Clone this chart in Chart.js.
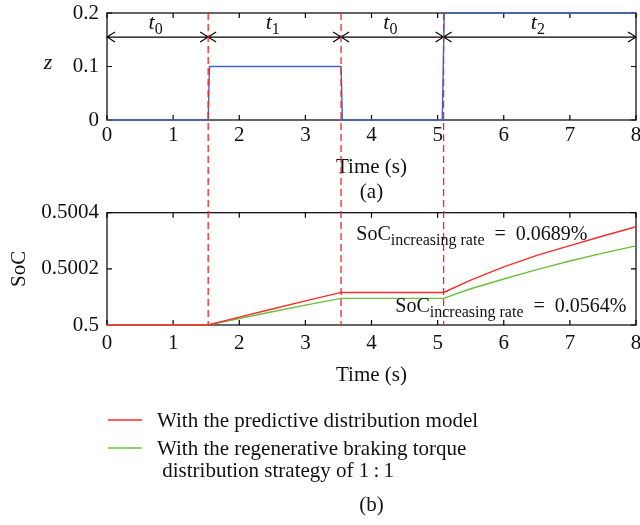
<!DOCTYPE html>
<html>
<head>
<meta charset="utf-8">
<script src="https://cdn.jsdelivr.net/npm/chart.js@4.4.0/dist/chart.umd.min.js"></script>
<style>
  body { margin: 0; background: #fff; }
  #wrap { position: relative; width: 640px; height: 525px; }
  canvas { position: absolute; left: 0; }
  #z-chart { top: 0; }
  #soc-chart { top: 195px; }
</style>
</head>
<body>
<div id="wrap">
  <canvas id="z-chart" width="640" height="205"></canvas>
  <canvas id="soc-chart" width="640" height="330"></canvas>
</div>
<script>
const timeTicks = [0, 1, 2, 3, 4, 5, 6, 7, 8];
const zTicks = [0, 0.1, 0.2];
const socTicks = [0.5, 0.5002, 0.5004];

// braking intensity z
const zTime = [0, 1.53, 1.55, 3.54, 3.56, 5.07, 5.1, 8];
const zValue = [0, 0, 0.1, 0.1, 0, 0, 0.2, 0.2];

// phase boundaries (red dashed lines) and phase names
const switchTimes = [1.53, 3.54, 5.09];
const phaseBounds = [0, 1.53, 3.54, 5.09, 8];
const phaseNames = ["0", "1", "0", "2"];

// SoC
const socTime = [0, 1.53, 2, 2.5, 3, 3.54, 5.09, 5.5, 6, 6.5, 7, 7.5, 8];
const socPredictive = [0.5, 0.5, 0.500028, 0.500057, 0.500086, 0.500116, 0.500116, 0.50016, 0.500207, 0.500248, 0.500283, 0.500317, 0.50035];
const socEqual = [0.5, 0.5, 0.500023, 0.500047, 0.500071, 0.500095, 0.500095, 0.500129, 0.500164, 0.500197, 0.500228, 0.500256, 0.500282];

const seriesLabels = [
	"With the predictive distribution model",
	"With the regenerative braking torque\n distribution strategy of 1\u2009:\u20091",
];
const rateLabels = ["0.0689%", "0.0564%"];

const serif = '"Liberation Serif", "DejaVu Serif", serif';
const fontSize = 21;
const splitY = 200; // page y where the dashed lines pass from one canvas to the other

const toXY = (xs, ys) => xs.map((x, i) => ({ x, y: ys[i] }));

// box around plot + inward tick marks (drawn under the data)
const frame = {
	id: "frame",
	beforeDatasetsDraw(chart) {
		const { ctx, chartArea: a, scales } = chart;
		ctx.save();
		ctx.strokeStyle = "#000";
		ctx.lineWidth = 1.2;
		ctx.strokeRect(a.left, a.top, a.right - a.left, a.bottom - a.top);
		ctx.beginPath();
		scales.x.ticks.forEach((t) => {
			const px = scales.x.getPixelForValue(t.value);
			ctx.moveTo(px, a.bottom);
			ctx.lineTo(px, a.bottom - 5);
			ctx.moveTo(px, a.top);
			ctx.lineTo(px, a.top + 5);
		});
		scales.y.ticks.forEach((t) => {
			const py = scales.y.getPixelForValue(t.value);
			ctx.moveTo(a.left, py);
			ctx.lineTo(a.left + 5, py);
			ctx.moveTo(a.right, py);
			ctx.lineTo(a.right - 5, py);
		});
		ctx.stroke();
		ctx.restore();
	},
};

// red dashed lines across both panels
const switchLines = (canvasTop) => ({
	id: "switchLines",
	afterDraw(chart) {
		const { ctx, chartArea: a, scales } = chart;
		ctx.save();
		ctx.strokeStyle = "#ff2020";
		ctx.lineWidth = 1.3;
		ctx.setLineDash([7, 4]);
		switchTimes.forEach((t) => {
			const px = scales.x.getPixelForValue(t);
			ctx.beginPath();
			if (canvasTop === 0) {
				ctx.moveTo(px, a.top);
				ctx.lineTo(px, splitY);
			} else {
				ctx.lineDashOffset = (splitY - 13) % 11;
				ctx.moveTo(px, splitY - canvasTop);
				ctx.lineTo(px, a.bottom);
			}
			ctx.stroke();
		});
		ctx.restore();
	},
});

const subText = (ctx, x, y, main, sub, tail, italic, mainSize, subSize) => {
	ctx.font = (italic ? "italic " : "") + mainSize + "px " + serif;
	ctx.fillText(main, x, y);
	x += ctx.measureText(main).width;
	ctx.font = subSize + "px " + serif;
	ctx.fillText(sub, x, y + 5);
	x += ctx.measureText(sub).width;
	if (tail) {
		ctx.font = mainSize + "px " + serif;
		ctx.fillText(tail, x, y);
	}
};

// phase arrows and t labels
const phases = {
	id: "phases",
	afterDatasetsDraw(chart) {
		const { ctx, scales } = chart;
		const y = scales.y.getPixelForValue(0.155);
		const ty = scales.y.getPixelForValue(0.171);
		ctx.save();
		ctx.strokeStyle = "#000";
		ctx.fillStyle = "#111";
		ctx.lineWidth = 1.1;
		ctx.beginPath();
		ctx.moveTo(scales.x.getPixelForValue(phaseBounds[0]), y);
		ctx.lineTo(scales.x.getPixelForValue(phaseBounds[phaseBounds.length - 1]), y);
		phaseBounds.forEach((b, i) => {
			const px = scales.x.getPixelForValue(b);
			if (i > 0) {
				ctx.moveTo(px - 8, y - 5);
				ctx.lineTo(px, y);
				ctx.lineTo(px - 8, y + 5);
			}
			if (i < phaseBounds.length - 1) {
				ctx.moveTo(px + 8, y - 5);
				ctx.lineTo(px, y);
				ctx.lineTo(px + 8, y + 5);
			}
		});
		ctx.stroke();
		ctx.textBaseline = "alphabetic";
		phaseNames.forEach((n, i) => {
			const mid = scales.x.getPixelForValue((phaseBounds[i] + phaseBounds[i + 1]) / 2);
			subText(ctx, mid - 9, ty, "t", n, null, true, 22, 16);
		});
		ctx.font = "italic 22px " + serif;
		ctx.textAlign = "center";
		ctx.textBaseline = "middle";
		ctx.fillText("z", 48, scales.y.getPixelForValue(0.1) - 3);
		ctx.restore();
	},
};

// rate annotations, legend and panel tag
const socExtras = {
	id: "socExtras",
	afterDraw(chart) {
		const { ctx, scales, chartArea: a } = chart;
		ctx.save();
		ctx.fillStyle = "#111";
		ctx.textBaseline = "alphabetic";
		subText(ctx, scales.x.getPixelForValue(3.77), scales.y.getPixelForValue(0.500303), "SoC", "increasing rate", "  =  " + rateLabels[0], false, 20, 16);
		subText(ctx, scales.x.getPixelForValue(4.36), scales.y.getPixelForValue(0.5000465), "SoC", "increasing rate", "  =  " + rateLabels[1], false, 20, 16);

		const rows = [a.bottom + 95, a.bottom + 123];
		chart.data.datasets.forEach((ds, i) => {
			ctx.strokeStyle = ds.borderColor;
			ctx.lineWidth = 1.3;
			ctx.beginPath();
			ctx.moveTo(a.left + 1, rows[i]);
			ctx.lineTo(a.left + 35, rows[i]);
			ctx.stroke();
			ctx.font = fontSize + "px " + serif;
			ctx.textBaseline = "middle";
			ds.label.split("\n").forEach((line, k) => {
				ctx.fillText(line, a.left + 50, rows[i] + 1 + k * 22);
			});
		});
		ctx.textAlign = "center";
		ctx.fillText("(b)", (a.left + a.right) / 2, a.bottom + 180);
		ctx.restore();
	},
};

const xAxis = (height, pad, title) => ({
	type: "linear",
	min: 0,
	max: 8,
	afterBuildTicks: (s) => { s.ticks = timeTicks.map((v) => ({ value: v })); },
	afterFit: (s) => { s.height = height; s.paddingLeft = 0; s.paddingRight = 0; },
	grid: { display: false, drawTicks: false },
	border: { display: false },
	ticks: { padding: pad, color: "#111", font: { family: serif, size: fontSize } },
	title: title,
});

const yAxis = (min, max, ticks, digits, title) => ({
	type: "linear",
	min,
	max,
	afterBuildTicks: (s) => { s.ticks = ticks.map((v) => ({ value: v })); },
	afterFit: (s) => { s.width = 107; s.paddingTop = 0; s.paddingBottom = 0; },
	grid: { display: false, drawTicks: false },
	border: { display: false },
	ticks: {
		padding: 8,
		color: "#111",
		font: { family: serif, size: fontSize },
		callback: (v) => String(+v.toFixed(digits)),
	},
	title: title || { display: false },
});

new Chart(document.getElementById("z-chart"), {
	type: "line",
	data: {
		datasets: [
			{
				label: "z",
				data: toXY(zTime, zValue),
				borderColor: "#4564c0",
				borderWidth: 1.4,
				pointRadius: 0,
				fill: false,
				clip: 3,
			},
		],
	},
	options: {
		responsive: false,
		animation: false,
		layout: { padding: { top: 13, right: 4, left: 0, bottom: 0 } },
		scales: {
			x: xAxis(85, 3, {
				display: true,
				text: ["Time (s)", "(a)"],
				color: "#111",
				font: { family: serif, size: fontSize, lineHeight: "25px" },
				padding: { top: 0, bottom: 0 },
			}),
			y: yAxis(0, 0.2, zTicks, 1),
		},
		plugins: { legend: { display: false }, tooltip: { enabled: false } },
	},
	plugins: [frame, phases, switchLines(0)],
});

new Chart(document.getElementById("soc-chart"), {
	type: "line",
	data: {
		datasets: [
			{
				label: seriesLabels[0],
				data: toXY(socTime, socPredictive),
				borderColor: "#ff2a2a",
				borderWidth: 1.4,
				pointRadius: 0,
				fill: false,
				clip: 3,
			},
			{
				label: seriesLabels[1],
				data: toXY(socTime, socEqual),
				borderColor: "#6cbf3a",
				borderWidth: 1.4,
				pointRadius: 0,
				fill: false,
				clip: 3,
			},
		],
	},
	options: {
		responsive: false,
		animation: false,
		layout: { padding: { top: 17.7, right: 4, left: 0, bottom: 0 } },
		scales: {
			x: xAxis(200, 6, {
				display: true,
				text: "Time (s)",
				color: "#111",
				font: { family: serif, size: fontSize, lineHeight: "25px" },
				padding: { top: 0, bottom: 137.5 },
			}),
			y: yAxis(0.5, 0.5004, socTicks, 4, {
				display: true,
				text: "SoC",
				color: "#111",
				font: { family: serif, size: fontSize, lineHeight: "25px" },
				padding: { top: 7, bottom: 0 },
			}),
		},
		plugins: { legend: { display: false }, tooltip: { enabled: false } },
	},
	plugins: [frame, switchLines(195), socExtras],
});
</script>
</body>
</html>
